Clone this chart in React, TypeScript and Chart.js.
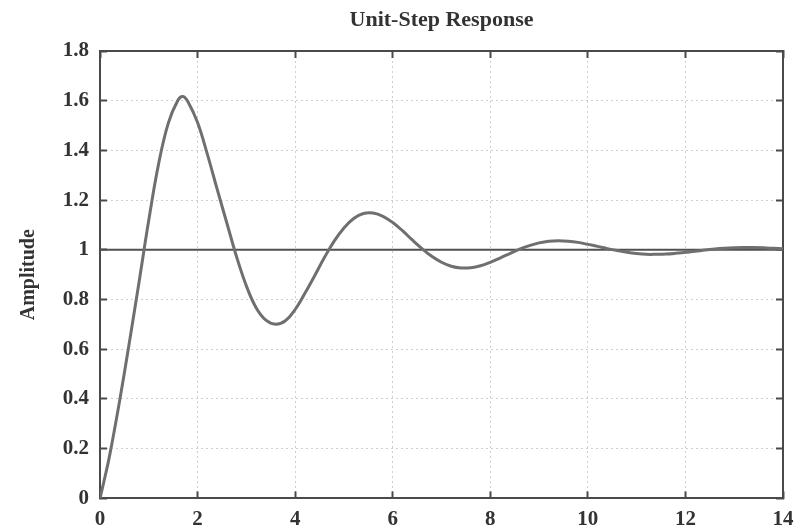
import React, { useEffect, useRef } from "react";
import { Chart, registerables } from "chart.js";

Chart.register(...registerables);

// ---- data ----
const chartTitle = "Unit-Step Response";
const yAxisTitle = "Amplitude";

const timeValues = [
  0, 0.1, 0.2, 0.4, 0.6, 0.8, 1.0, 1.2, 1.4, 1.6, 1.7, 1.8, 2.0, 2.2, 2.4, 2.6,
  2.8, 3.0, 3.2, 3.4, 3.6, 3.8, 4.0, 4.2, 4.4, 4.6, 4.8, 5.0, 5.2, 5.4, 5.6,
  5.8, 6.0, 6.2, 6.4, 6.6, 6.8, 7.0, 7.2, 7.4, 7.6, 7.8, 8.0, 8.2, 8.4, 8.6,
  8.8, 9.0, 9.2, 9.4, 9.6, 9.8, 10.0, 10.2, 10.4, 10.6, 10.8, 11.0, 11.2, 11.4,
  11.6, 11.8, 12.0, 12.2, 12.4, 12.6, 12.8, 13.0, 13.2, 13.4, 13.6, 13.8, 14.0,
];

const amplitudeValues = [
  0, 0.085, 0.175, 0.39, 0.625, 0.87, 1.12, 1.345, 1.51, 1.603, 1.617, 1.597,
  1.512, 1.385, 1.245, 1.108, 0.972, 0.855, 0.767, 0.717, 0.701, 0.715, 0.76,
  0.825, 0.896, 0.969, 1.035, 1.088, 1.126, 1.146, 1.148, 1.135, 1.11, 1.077,
  1.04, 1.005, 0.974, 0.95, 0.934, 0.927, 0.928, 0.936, 0.95, 0.967, 0.985,
  1.003, 1.017, 1.028, 1.035, 1.037, 1.035, 1.03, 1.022, 1.014, 1.005, 0.997,
  0.99, 0.985, 0.982, 0.982, 0.983, 0.986, 0.99, 0.994, 0.999, 1.003, 1.006,
  1.008, 1.009, 1.009, 1.008, 1.006, 1.004,
];

const referenceTime = [0, 14];
const referenceAmplitude = [1, 1];

const xTickValues = [0, 2, 4, 6, 8, 10, 12, 14];
const xTickLabels = ["0", "2", "4", "6", "8", "10", "12", "14"];
const yTickValues = [0, 0.2, 0.4, 0.6, 0.8, 1, 1.2, 1.4, 1.6, 1.8];
const yTickLabels = ["0", "0.2", "0.4", "0.6", "0.8", "1", "1.2", "1.4", "1.6", "1.8"];

const FONT = '"Liberation Serif", "Times New Roman", serif';
const AXIS_COLOR = "#4a4a4a";
const GRID_COLOR = "#cfcfcf";
const TEXT_COLOR = "#333333";

export default function App() {
  const canvasRef = useRef<HTMLCanvasElement | null>(null);

  useEffect(() => {
    const canvas = canvasRef.current;
    if (!canvas) return;

    const tickMark = {
      tickLength: -7,
      tickColor: AXIS_COLOR,
      tickWidth: 2,
      drawTicks: true,
    };

    const chart = new Chart(canvas, {
      type: "line",
      data: {
        datasets: [
          {
            label: "Step response",
            data: timeValues.map((t, i) => ({ x: t, y: amplitudeValues[i] })),
            borderColor: "#6f6f6f",
            borderWidth: 3,
            pointRadius: 0,
            tension: 0.4,
            fill: false,
          },
          {
            label: "Final value",
            data: referenceTime.map((t, i) => ({ x: t, y: referenceAmplitude[i] })),
            borderColor: "#505050",
            borderWidth: 2,
            pointRadius: 0,
            fill: false,
          },
        ],
      },
      options: {
        responsive: false,
        animation: false,
        devicePixelRatio: 1,
        layout: { padding: { left: 0, right: 20, top: 0, bottom: 0 } },
        plugins: {
          legend: { display: false },
          tooltip: { enabled: false },
          title: {
            display: true,
            text: chartTitle,
            fullSize: false,
            color: TEXT_COLOR,
            font: { family: FONT, size: 22, weight: "bold" },
            padding: { top: 7, bottom: 17.6 },
          },
        },
        scales: {
          x: {
            type: "linear",
            position: "bottom",
            min: 0,
            max: 14,
            afterBuildTicks: (scale: any) => {
              scale.ticks = xTickValues.map((v) => ({ value: v }));
            },
            afterFit: (scale: any) => {
              scale.height = 27;
              scale.paddingLeft = 0;
              scale.paddingRight = 0;
            },
            ticks: {
              autoSkip: false,
              maxRotation: 0,
              padding: 16,
              color: TEXT_COLOR,
              font: { family: FONT, size: 21, weight: "bold" },
              callback: (_v: any, i: number) => xTickLabels[i],
            },
            grid: { color: GRID_COLOR, lineWidth: 1, ...tickMark },
            border: { color: AXIS_COLOR, width: 2, dash: [2, 3] },
          },
          x2: {
            type: "linear",
            position: "top",
            min: 0,
            max: 14,
            afterBuildTicks: (scale: any) => {
              scale.ticks = xTickValues.map((v) => ({ value: v }));
            },
            afterFit: (scale: any) => {
              scale.height = 0;
              scale.paddingLeft = 0;
              scale.paddingRight = 0;
            },
            ticks: { display: false },
            grid: { drawOnChartArea: false, ...tickMark },
            border: { color: AXIS_COLOR, width: 2 },
          },
          y: {
            type: "linear",
            position: "left",
            min: 0,
            max: 1.8,
            afterBuildTicks: (scale: any) => {
              scale.ticks = yTickValues.map((v) => ({ value: v }));
            },
            afterFit: (scale: any) => {
              scale.width = 100;
            },
            ticks: {
              autoSkip: false,
              padding: 18,
              color: TEXT_COLOR,
              font: { family: FONT, size: 21, weight: "bold" },
              callback: (_v: any, i: number) => yTickLabels[i],
            },
            title: {
              display: true,
              text: yAxisTitle,
              color: TEXT_COLOR,
              font: { family: FONT, size: 20, weight: "bold" },
              padding: { top: 17, bottom: 0 },
            },
            grid: { color: GRID_COLOR, lineWidth: 1, ...tickMark },
            border: { color: AXIS_COLOR, width: 2, dash: [2, 3] },
          },
          y2: {
            type: "linear",
            position: "right",
            min: 0,
            max: 1.8,
            afterBuildTicks: (scale: any) => {
              scale.ticks = yTickValues.map((v) => ({ value: v }));
            },
            afterFit: (scale: any) => {
              scale.width = 0;
            },
            ticks: { display: false },
            grid: { drawOnChartArea: false, ...tickMark },
            border: { color: AXIS_COLOR, width: 2 },
          },
        },
      },
    } as any);

    return () => {
      chart.destroy();
    };
  }, []);

  return (
    <div style={{ position: "fixed", left: 0, top: 0, width: 803, height: 529, background: "#fff" }}>
      <canvas ref={canvasRef} width={803} height={529} />
    </div>
  );
}
